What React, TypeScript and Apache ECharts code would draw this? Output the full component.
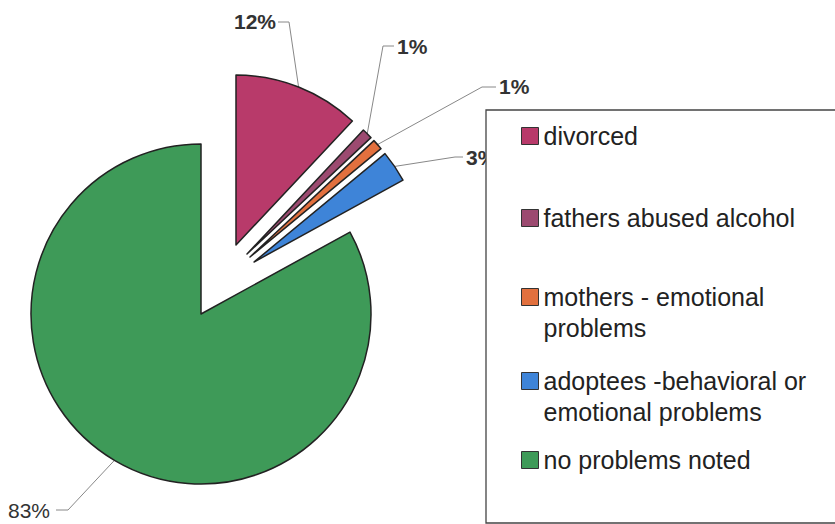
import React, { useEffect, useRef } from 'react';
import * as echarts from 'echarts';

// ---- data ----
const categories = [
  'divorced',
  'fathers abused alcohol',
  'mothers - emotional problems',
  'adoptees -behavioral or emotional problems',
  'no problems noted',
];
const values = [12, 1, 1, 3, 83];
const legendLines = [
  'divorced',
  'fathers abused alcohol',
  'mothers - emotional\nproblems',
  'adoptees -behavioral or\nemotional problems',
  'no problems noted',
];

// ---- styles / layout ----
const colors = ['#B83A6A', '#9C4A70', '#E2703E', '#3E84D8', '#3E9A58'];
const FONT = '"Liberation Sans", Arial, sans-serif';
const CENTER: [number, number] = [201, 314];
const RADIUS = 170;
// explosion (pixel offsets of each slice from the pie centre)
const explode = [
  [35, -69],
  [46, -60],
  [49, -57],
  [53, -52],
  [0, 0],
];

const labelCfg = [
  { x: 276, y: 21, align: 'right', pts: [[289, 22], [278, 22]], bold: true },
  { x: 397, y: 46, align: 'left', pts: [[383, 46], [394, 46]], bold: true },
  { x: 499, y: 86, align: 'left', pts: [[482, 87], [496, 87]], bold: true },
  { x: 466, y: 157, align: 'left', pts: [[455, 157], [463, 157]], bold: true },
  { x: 8, y: 510, align: 'left', pts: [[68, 510], [56, 510]], bold: false },
];

const markerCenters = [136, 218, 297, 381, 460];
const LINE_H = 31;
const HIDDEN = 'rgba(0,0,0,0)';

export default function App() {
  const ref = useRef<HTMLDivElement>(null);
  useEffect(() => {
    if (!ref.current) return;
    const chart = echarts.init(ref.current, null, { renderer: 'svg' });

    const legends = categories.map((name, i) => {
      const twoLines = legendLines[i].includes('\n');
      const top = twoLines ? markerCenters[i] - 1.5 * LINE_H : markerCenters[i] - LINE_H / 2;
      return {
        data: [{ name, itemStyle: { color: colors[i] } }],
        orient: 'vertical',
        left: 521,
        top,
        padding: 0,
        itemGap: 0,
        itemWidth: 17,
        itemHeight: 17,
        icon: 'rect',
        selectedMode: false,
        z: 110,
        itemStyle: { borderColor: '#333', borderWidth: 1 },
        // two-line entries get an empty first line so the marker sits on the first text line
        formatter: (n: string) => {
          const t = legendLines[categories.indexOf(n)];
          return t.includes('\n') ? '\n' + t : t;
        },
        textStyle: {
          fontFamily: FONT,
          fontSize: 25,
          lineHeight: LINE_H,
          color: '#222',
        },
      };
    });

    const series = categories.map((_, k) => ({
      type: 'pie',
      name: 'slice' + k,
      center: [CENTER[0] + explode[k][0], CENTER[1] + explode[k][1]],
      radius: RADIUS,
      startAngle: 90,
      clockwise: true,
      silent: true,
      avoidLabelOverlap: false,
      selectedMode: false,
      emphasis: { disabled: true },
      z: k === 4 ? 2 : 3,
      data: categories.map((name, i) => ({
        name,
        value: values[i],
        itemStyle:
          i === k
            ? { color: colors[i], borderColor: '#222', borderWidth: 1.5 }
            : { color: HIDDEN, borderColor: HIDDEN, borderWidth: 0 },
        label: i === k ? { show: true, fontWeight: labelCfg[i].bold ? 'bold' : 'normal' } : { show: false },
        labelLine: { show: i === k },
      })),
      label: {
        show: true,
        position: 'outside',
        formatter: '{c}%',
        fontFamily: FONT,
        fontSize: 21,
        color: '#333',
      },
      labelLine: {
        show: true,
        lineStyle: { color: '#888', width: 1 },
      },
      labelLayout: (params: any) => {
        if (params.dataIndex !== k) return {};
        const c = labelCfg[k];
        const s = params.labelLinePoints && params.labelLinePoints[0];
        const out: any = {
          x: c.x,
          y: c.y,
          align: c.align,
          verticalAlign: 'middle',
        };
        if (s) out.labelLinePoints = [[s[0], s[1]], c.pts[0], c.pts[1]];
        return out;
      },
    }));

    chart.setOption({
      animation: false,
      backgroundColor: '#fff',
      legend: legends,
      graphic: [
        {
          type: 'rect',
          z: 100,
          shape: { x: 486, y: 110, width: 400, height: 413 },
          style: { fill: '#fff', stroke: '#444', lineWidth: 1.3 },
        },
      ],
      series,
    });

    return () => chart.dispose();
  }, []);

  return (
    <div
      ref={ref}
      style={{ position: 'absolute', left: 0, top: 0, width: 835, height: 524, background: '#fff' }}
    />
  );
}
